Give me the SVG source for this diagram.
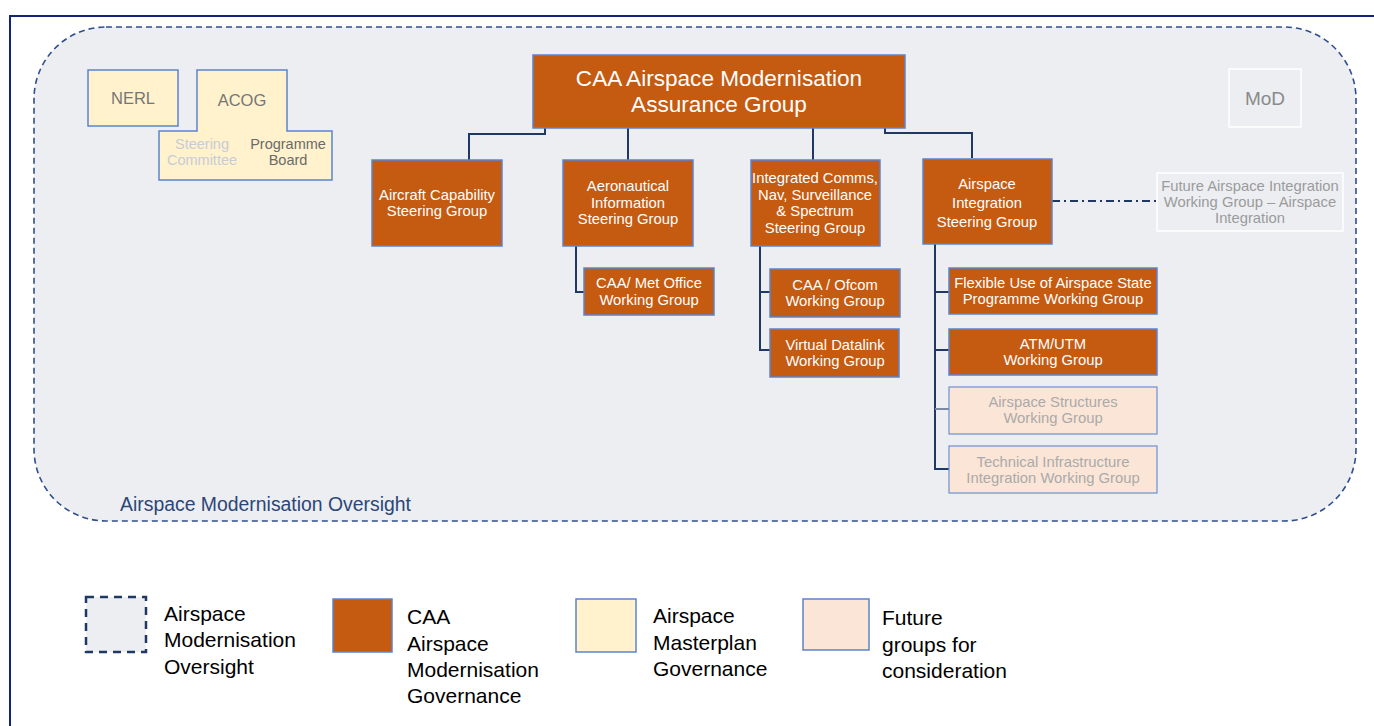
<svg xmlns="http://www.w3.org/2000/svg" width="1374" height="726" viewBox="0 0 1374 726">
<style>
.t{font-family:"Liberation Sans",Arial,sans-serif;text-anchor:middle}
.n{fill:#c55a11;stroke:#5b84cc;stroke-width:1.5}
.f{fill:#fbe5d6;stroke:#6f8fd0;stroke-width:1.2}
.y{fill:#fff2cc;stroke:#5b84cc;stroke-width:1.5}
.w{fill:#ffffff;font-size:14.8px}
.g{fill:#9b9b9b;font-size:14.8px}
.c{fill:none;stroke:#1f3864;stroke-width:2}
.lg{font-family:"Liberation Sans",Arial,sans-serif;font-size:21px;fill:#000}
</style>
<rect width="1374" height="726" fill="#ffffff"/>
<path d="M10 726 V16 H1374" fill="none" stroke="#12237e" stroke-width="2"/>
<g id="oversight">
<rect x="34" y="27" width="1322" height="494" rx="72" ry="72" fill="#eceef2" stroke="#2e4f8f" stroke-width="1.6" stroke-dasharray="6 4"/>
<text x="120" y="511" style="font-family:'Liberation Sans',Arial,sans-serif;font-size:19.4px;fill:#2c4677">Airspace Modernisation Oversight</text>
</g>
<g id="connectors">
<path class="c" d="M545 128 V134 H469 V160"/>
<path class="c" d="M628 128 V160"/>
<path class="c" d="M813 128 V160"/>
<path class="c" d="M885 128 V133 H972 V158"/>
<path class="c" d="M576 246 V292 H584"/>
<path class="c" d="M760 246 V350 H770 M760 292 H770"/>
<path class="c" d="M935 244 V469 H949 M935 292 H949 M935 350 H949"/>
<path d="M935 409 H949" fill="none" stroke="#7d89a3" stroke-width="2"/>
<path d="M1052 201 H1157" fill="none" stroke="#1f3864" stroke-width="1.8" stroke-dasharray="8 4 2 4"/>
</g>
<g id="nerl">
<rect class="y" x="88" y="70" width="90" height="56"/>
<text class="t" x="133" y="104" style="font-size:16.5px;fill:#767676">NERL</text>
</g>
<g id="acog">
<path class="y" d="M197 70 H287 V131 H332 V180 H159 V131 H197 Z"/>
<text class="t" x="242" y="106" style="font-size:16.5px;fill:#767676">ACOG</text>
<text class="t" x="202" y="149" style="font-size:14.5px;fill:#c8ccd6">Steering</text>
<text class="t" x="202" y="165" style="font-size:14.5px;fill:#c8ccd6">Committee</text>
<text class="t" x="288" y="149" style="font-size:14.5px;fill:#6b6b6b">Programme</text>
<text class="t" x="288" y="165" style="font-size:14.5px;fill:#6b6b6b">Board</text>
</g>
<g id="mod">
<rect x="1229" y="69" width="72" height="58" fill="#eceef2" stroke="#ffffff" stroke-width="1.5"/>
<text class="t" x="1265" y="105" style="font-size:19px;fill:#8a8a8a">MoD</text>
</g>
<g id="amag">
<rect class="n" x="533" y="55" width="372" height="73"/>
<text class="t" x="719" y="86" style="font-size:22.6px;fill:#fff">CAA Airspace Modernisation</text>
<text class="t" x="719" y="112" style="font-size:22.6px;fill:#fff">Assurance Group</text>
</g>
<g id="aircraft">
<rect class="n" x="372" y="160" width="130" height="86"/>
<text class="t w" x="437" y="200">Aircraft Capability</text>
<text class="t w" x="437" y="216">Steering Group</text>
</g>
<g id="aero">
<rect class="n" x="563" y="160" width="130" height="86"/>
<text class="t w" x="628" y="191">Aeronautical</text>
<text class="t w" x="628" y="208">Information</text>
<text class="t w" x="628" y="224">Steering Group</text>
</g>
<g id="icns">
<rect class="n" x="751" y="160" width="129" height="86"/>
<text class="t w" x="815" y="183">Integrated Comms,</text>
<text class="t w" x="815" y="200">Nav, Surveillance</text>
<text class="t w" x="815" y="216">&amp; Spectrum</text>
<text class="t w" x="815" y="233">Steering Group</text>
</g>
<g id="aisg">
<rect class="n" x="923" y="159" width="129" height="85"/>
<text class="t w" x="987" y="189">Airspace</text>
<text class="t w" x="987" y="208">Integration</text>
<text class="t w" x="987" y="227">Steering Group</text>
</g>
<g id="future-ai">
<rect x="1157" y="173" width="186" height="58" fill="#eceef2" stroke="#ffffff" stroke-width="1.5"/>
<text class="t g" x="1250" y="191">Future Airspace Integration</text>
<text class="t g" x="1250" y="207">Working Group – Airspace</text>
<text class="t g" x="1250" y="223">Integration</text>
</g>
<g id="metoffice">
<rect class="n" x="584" y="268" width="130" height="47"/>
<text class="t w" x="649" y="288">CAA/ Met Office</text>
<text class="t w" x="649" y="305">Working Group</text>
</g>
<g id="ofcom">
<rect class="n" x="770" y="269" width="130" height="48"/>
<text class="t w" x="835" y="290">CAA / Ofcom</text>
<text class="t w" x="835" y="306">Working Group</text>
</g>
<g id="datalink">
<rect class="n" x="770" y="329" width="129" height="48"/>
<text class="t w" x="835" y="350">Virtual Datalink</text>
<text class="t w" x="835" y="366">Working Group</text>
</g>
<g id="fua">
<rect class="n" x="949" y="268" width="208" height="46"/>
<text class="t w" x="1053" y="288">Flexible Use of Airspace State</text>
<text class="t w" x="1053" y="304">Programme Working Group</text>
</g>
<g id="atm">
<rect class="n" x="949" y="329" width="208" height="46"/>
<text class="t w" x="1053" y="349">ATM/UTM</text>
<text class="t w" x="1053" y="365">Working Group</text>
</g>
<g id="structures">
<rect class="f" x="949" y="387" width="208" height="47"/>
<text class="t" x="1053" y="407" style="font-size:14.8px;fill:#aaaaaa">Airspace Structures</text>
<text class="t" x="1053" y="423" style="font-size:14.8px;fill:#aaaaaa">Working Group</text>
</g>
<g id="technical">
<rect class="f" x="949" y="446" width="208" height="47"/>
<text class="t" x="1053" y="467" style="font-size:14.8px;fill:#aaaaaa">Technical Infrastructure</text>
<text class="t" x="1053" y="483" style="font-size:14.8px;fill:#aaaaaa">Integration Working Group</text>
</g>
<g id="legend">
<rect x="86" y="597" width="60" height="55" fill="#eceef2" stroke="#1f3864" stroke-width="2.5" stroke-dasharray="8 6"/>
<text class="lg" x="164" y="621">Airspace</text>
<text class="lg" x="164" y="647">Modernisation</text>
<text class="lg" x="164" y="674">Oversight</text>
<rect class="n" x="333" y="599" width="59" height="53"/>
<text class="lg" x="407" y="624">CAA</text>
<text class="lg" x="407" y="651">Airspace</text>
<text class="lg" x="407" y="677">Modernisation</text>
<text class="lg" x="407" y="703">Governance</text>
<rect class="y" x="576" y="599" width="60" height="53"/>
<text class="lg" x="653" y="623">Airspace</text>
<text class="lg" x="653" y="650">Masterplan</text>
<text class="lg" x="653" y="676">Governance</text>
<rect class="f" x="803" y="599" width="66" height="51" style="stroke:#5b84cc;stroke-width:1.5"/>
<text class="lg" x="882" y="625">Future</text>
<text class="lg" x="882" y="652">groups for</text>
<text class="lg" x="882" y="678">consideration</text>
</g>
</svg>
